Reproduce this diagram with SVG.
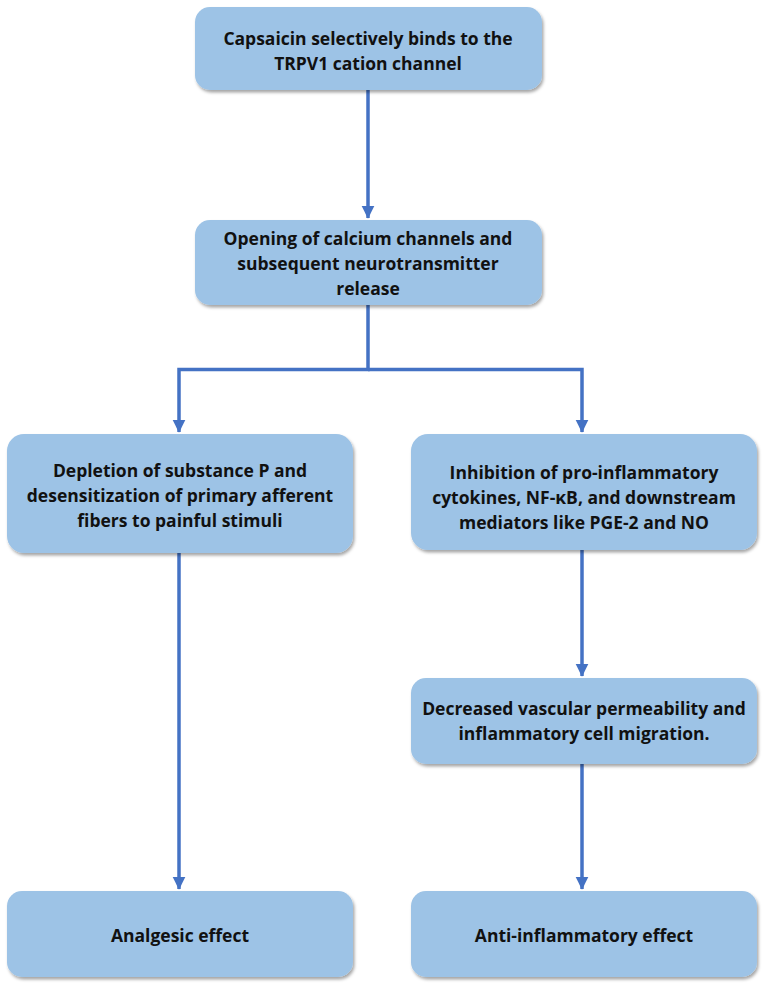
<svg xmlns="http://www.w3.org/2000/svg" width="765" height="987" viewBox="0 0 765 987">
<defs>
<filter id="sh" x="-5%" y="-5%" width="110%" height="120%">
<feDropShadow dx="1.5" dy="2.5" stdDeviation="1.8" flood-color="#000" flood-opacity="0.35"/>
</filter>
<marker id="ah" markerWidth="4" markerHeight="4" refX="3.4" refY="2" orient="auto" markerUnits="strokeWidth">
<path d="M0,0.2 L3.6,2 L0,3.8 Z" fill="#4472C4"/>
</marker>
</defs>
<style>
.box{fill:#9DC3E6;filter:url(#sh)}
.t{font-family:"Open Sans","Liberation Sans",sans-serif;font-weight:bold;font-size:17.5px;fill:#111;text-anchor:middle}
.c{fill:none;stroke:#4472C4;stroke-width:3.5}
</style>
<g id="connectors">
<path class="c" d="M368,90 V218" marker-end="url(#ah)"/>
<path class="c" d="M368,305 V369.5 H179 V432" marker-end="url(#ah)"/>
<path class="c" d="M368,369.5 H582 V432" marker-end="url(#ah)"/>
<path class="c" d="M179,553 V889" marker-end="url(#ah)"/>
<path class="c" d="M582,550 V676" marker-end="url(#ah)"/>
<path class="c" d="M582,764 V889" marker-end="url(#ah)"/>
</g>
<g id="n1">
<rect class="box" x="195" y="7" width="347" height="83" rx="15"/>
<text class="t" x="368" y="45">Capsaicin selectively binds to the</text>
<text class="t" x="368" y="70">TRPV1 cation channel</text>
</g>
<g id="n2">
<rect class="box" x="195" y="220" width="347" height="85" rx="15"/>
<text class="t" x="368" y="245">Opening of calcium channels and</text>
<text class="t" x="368" y="270">subsequent neurotransmitter</text>
<text class="t" x="368" y="295">release</text>
</g>
<g id="n3">
<rect class="box" x="7" y="434" width="346" height="119" rx="17"/>
<text class="t" x="180" y="477">Depletion of substance P and</text>
<text class="t" x="180" y="502">desensitization of primary afferent</text>
<text class="t" x="180" y="527">fibers to painful stimuli</text>
</g>
<g id="n4">
<rect class="box" x="411" y="434" width="346" height="116" rx="17"/>
<text class="t" x="584" y="479">Inhibition of pro-inflammatory</text>
<text class="t" x="584" y="504">cytokines, NF-κB, and downstream</text>
<text class="t" x="584" y="529">mediators like PGE-2 and NO</text>
</g>
<g id="n5">
<rect class="box" x="411" y="678" width="346" height="86" rx="15"/>
<text class="t" x="584" y="715">Decreased vascular permeability and</text>
<text class="t" x="584" y="740">inflammatory cell migration.</text>
</g>
<g id="n6">
<rect class="box" x="7" y="891" width="346" height="86" rx="15"/>
<text class="t" x="180" y="942">Analgesic effect</text>
</g>
<g id="n7">
<rect class="box" x="411" y="891" width="346" height="86" rx="15"/>
<text class="t" x="584" y="942">Anti-inflammatory effect</text>
</g>
</svg>
